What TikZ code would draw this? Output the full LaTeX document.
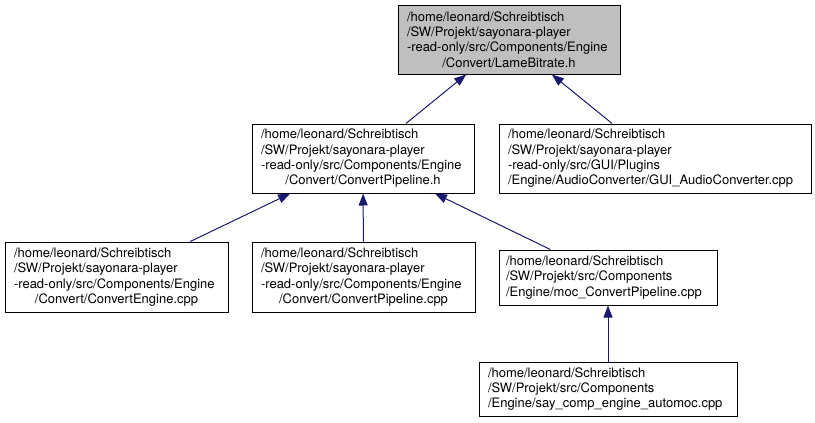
\documentclass[tikz,border=0pt]{standalone}
\usepackage{fontspec}
\setsansfont{TeX Gyre Heros}
\usepackage{xcolor}
\usepackage{tikz}
\usetikzlibrary{arrows.meta, positioning}
\definecolor{edgeblue}{RGB}{25,25,112}
\definecolor{rootgray}{RGB}{191,191,191}
\newcommand{\filefont}{\sffamily\fontsize{13}{15.3}\selectfont}
\newcommand{\lastline}[1]{\makebox[\hsize][c]{#1}}

\begin{document}
\begin{tikzpicture}[
  x=1pt, y=-1pt,
  filebox/.style={draw=black, line width=1pt, fill=white, align=left, font=\filefont, inner xsep=9pt, inner ysep=0pt},
  deparrow/.style={-{Triangle[length=12pt, width=9pt]}, line width=1pt, color=edgeblue},
]
  \useasboundingbox (0,0) rectangle (815,423);

  % === Root header ===
  \node[filebox, fill=rootgray, text width=204pt, minimum height=69pt] (lamebitrate) at (509, 39.5)
    {/home/leonard/Schreibtisch\\/SW/Projekt/sayonara-player\\-read-only/src/Components/Engine\\
    \lastline{/Convert/LameBitrate.h}};

  % === Direct includers ===
  \node[filebox, text width=204pt, minimum height=69pt] (pipelineh) at (363, 158.5)
    {/home/leonard/Schreibtisch\\/SW/Projekt/sayonara-player\\-read-only/src/Components/Engine\\
    \lastline{/Convert/ConvertPipeline.h}};

  \node[filebox, text width=294pt, minimum height=69pt] (guiconv) at (655, 158.5)
    {/home/leonard/Schreibtisch\\/SW/Projekt/sayonara-player\\-read-only/src/GUI/Plugins\\/Engine/AudioConverter/GUI\_AudioConverter.cpp};

  % === Includers of ConvertPipeline.h ===
  \node[filebox, text width=205pt, minimum height=70pt] (engine) at (116.5, 277)
    {/home/leonard/Schreibtisch\\/SW/Projekt/sayonara-player\\-read-only/src/Components/Engine\\
    \lastline{/Convert/ConvertEngine.cpp}};

  \node[filebox, text width=205pt, minimum height=70pt] (pipelinecpp) at (363.5, 277)
    {/home/leonard/Schreibtisch\\/SW/Projekt/sayonara-player\\-read-only/src/Components/Engine\\
    \lastline{/Convert/ConvertPipeline.cpp}};

  \node[filebox, inner xsep=7pt, text width=204pt, minimum height=55pt] (mocpipeline) at (608, 277.5)
    {/home/leonard/Schreibtisch\\/SW/Projekt/src/Components\\/Engine/moc\_ConvertPipeline.cpp};

  % === Automoc ===
  \node[filebox, text width=240pt, minimum height=54pt] (automoc) at (608, 389)
    {/home/leonard/Schreibtisch\\/SW/Projekt/src/Components\\/Engine/say\_comp\_engine\_automoc.cpp};

  % === Arrows ===
  \draw[deparrow] (pipelineh) -- (lamebitrate);
  \draw[deparrow] (guiconv) -- (lamebitrate);
  \draw[deparrow] (engine) -- (pipelineh);
  \draw[deparrow] (pipelinecpp) -- (pipelineh);
  \draw[deparrow] (mocpipeline) -- (pipelineh);
  \draw[deparrow] (automoc) -- (mocpipeline);

\end{tikzpicture}
\end{document}
